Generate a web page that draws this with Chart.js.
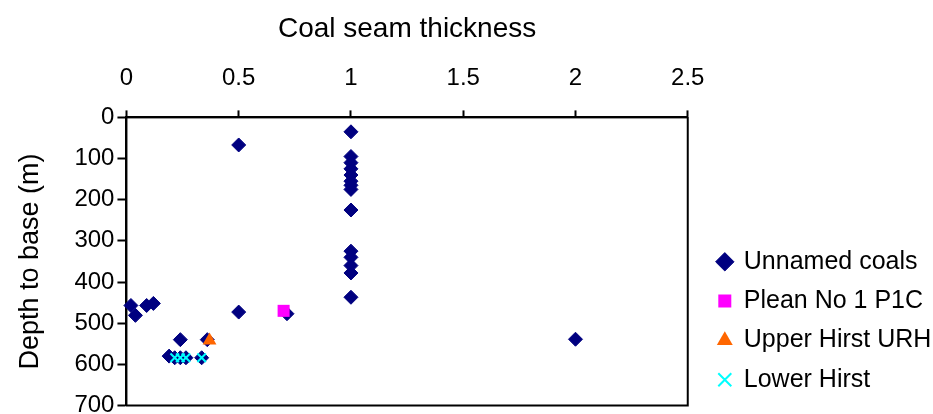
<!DOCTYPE html>
<html>
<head>
<meta charset="utf-8">
<script src="https://cdn.jsdelivr.net/npm/chart.js@4.4.1/dist/chart.umd.min.js"></script>
<style>
  html, body { margin: 0; padding: 0; background: #fff; overflow: hidden; }
</style>
</head>
<body>
<canvas id="myChart" width="933" height="414"></canvas>
<script>
// thickness (x) and depth to base (y) for each series
const unnamedX = [1, 1, 1, 1, 1, 1, 1, 1, 1, 1, 1, 1, 1, 1,
    0.5, 0.02, 0.04, 0.09, 0.12, 0.5, 0.715, 0.24, 0.36, 0.19, 0.215, 0.24, 0.265, 0.335, 2.0];
const unnamedY = [35, 95, 110, 125, 140, 155, 165, 175, 225, 325, 340, 360, 378, 437,
    67, 457, 481, 457, 452, 473, 477, 540, 540, 580, 584, 584, 584, 584, 539];
const pleanX = [0.70];
const pleanY = [470];
const upperX = [0.37];
const upperY = [542];
const lowerX = [0.215, 0.24, 0.265, 0.335];
const lowerY = [584, 584, 584, 584];

const xTicks = [0, 0.5, 1, 1.5, 2, 2.5];
const yTicks = [0, 100, 200, 300, 400, 500, 600, 700];

function pts(xs, ys) {
    return xs.map((x, i) => ({ x: x, y: ys[i] }));
}

const fontFam = '"Liberation Sans", Arial, sans-serif';

// box around the plot area and legend placement
const framePlugin = {
    id: 'frame',
    afterLayout(chart) {
        const lg = chart.legend;
        const dy = 235 - lg.top;
        lg.top += dy;
        lg.bottom += dy;
        const dx = 704 - lg.left;
        lg.left += dx;
        lg.right += dx;
    },
    beforeDatasetsDraw(chart) {
        const a = chart.chartArea;
        const ctx = chart.ctx;
        ctx.save();
        ctx.strokeStyle = '#000';
        ctx.lineWidth = 2;
        ctx.strokeRect(a.left, a.top, a.right - a.left, a.bottom - a.top);
        ctx.restore();
    }
};

const ctx = document.getElementById('myChart');
new Chart(ctx, {
    type: 'scatter',
    data: {
        datasets: [{
            label: 'Unnamed coals',
            data: pts(unnamedX, unnamedY),
            pointStyle: 'rectRot',
            pointRadius: 7,
            backgroundColor: '#000080',
            borderColor: '#000080',
            borderWidth: 1,
            clip: false,
            order: 1
        }, {
            label: 'Plean No 1 P1C',
            data: pts(pleanX, pleanY),
            pointStyle: 'rect',
            pointRadius: 8.5,
            backgroundColor: '#ff00ff',
            borderColor: '#ff00ff',
            borderWidth: 0,
            clip: false,
            order: 0
        }, {
            label: 'Upper Hirst URH',
            data: pts(upperX, upperY),
            pointStyle: 'triangle',
            pointRadius: 8,
            backgroundColor: '#ff6600',
            borderColor: '#ff6600',
            borderWidth: 0,
            clip: false,
            order: 0
        }, {
            label: 'Lower Hirst',
            data: pts(lowerX, lowerY),
            pointStyle: 'crossRot',
            pointRadius: 6,
            backgroundColor: '#00ffff',
            borderColor: '#00ffff',
            borderWidth: 2,
            clip: false,
            order: 0
        }]
    },
    options: {
        responsive: false,
        animation: false,
        layout: { padding: { left: 0, right: 16, top: 0, bottom: 0 } },
        plugins: {
            legend: {
                position: 'right',
                align: 'start',
                labels: {
                    usePointStyle: true,
                    boxWidth: 13,
                    boxHeight: 13,
                    padding: 14.3,
                    color: '#000',
                    font: { family: fontFam, size: 25 },
                    sort: (a, b) => a.datasetIndex - b.datasetIndex
                }
            },
            tooltip: { enabled: false }
        },
        scales: {
            x: {
                type: 'linear',
                position: 'top',
                min: 0,
                max: 2.5,
                afterBuildTicks: (s) => { s.ticks = xTicks.map(v => ({ value: v })); },
                title: {
                    display: true,
                    text: 'Coal seam thickness',
                    color: '#000',
                    font: { family: fontFam, size: 28 },
                    padding: { top: 12, bottom: 0 }
                },
                ticks: {
                    color: '#000',
                    padding: 18,
                    maxRotation: 0,
                    font: { family: fontFam, size: 24 },
                    callback: (v) => String(v)
                },
                grid: {
                    drawOnChartArea: false,
                    color: '#000',
                    tickLength: 7,
                    tickWidth: 2
                },
                border: { color: '#000', width: 2 }
            },
            y: {
                type: 'linear',
                reverse: true,
                min: 0,
                max: 700,
                afterBuildTicks: (s) => { s.ticks = yTicks.map(v => ({ value: v })); },
                afterFit: (s) => { s.paddingTop = 0; s.paddingBottom = 0; },
                title: {
                    display: true,
                    text: 'Depth to base (m)',
                    color: '#000',
                    font: { family: fontFam, size: 27 },
                    padding: { top: 14, bottom: 25 }
                },
                ticks: {
                    color: '#000',
                    padding: 3,
                    font: { family: fontFam, size: 24 }
                },
                grid: {
                    drawOnChartArea: false,
                    color: '#000',
                    tickLength: 9,
                    tickWidth: 2
                },
                border: { color: '#000', width: 2 }
            }
        }
    },
    plugins: [framePlugin]
});
</script>
</body>
</html>
